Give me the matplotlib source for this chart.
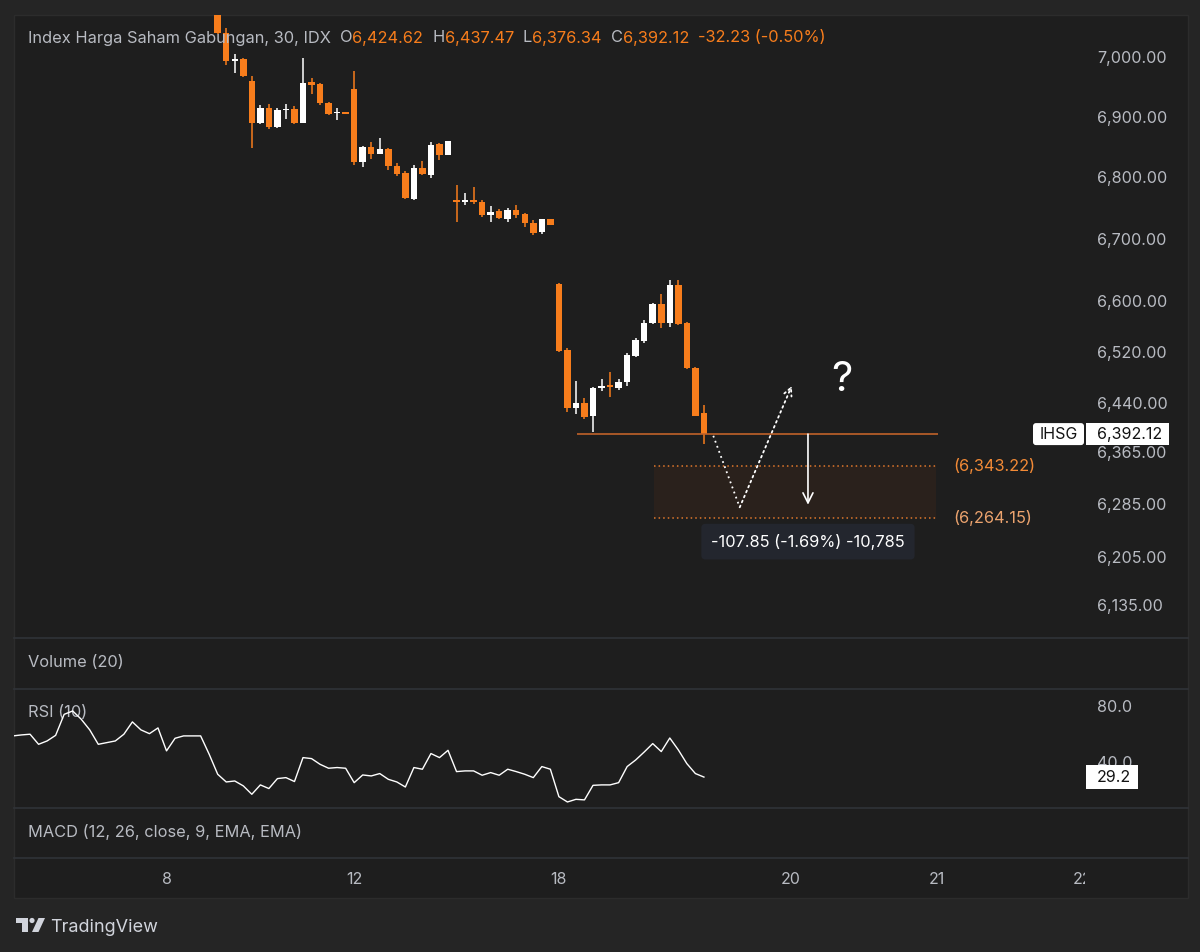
import numpy as np
import matplotlib.pyplot as plt
from matplotlib.patches import Rectangle, FancyBboxPatch, Circle, Polygon
from matplotlib.ticker import FixedLocator, FuncFormatter, NullLocator

plt.rcParams['font.family'] = ['Inter', 'DejaVu Sans']

# --- data (30 min bars, index 0 = first bar visible in the price pane) ---
bar_idx = np.arange(0, 58)
opens = [7082, 7041, 6993.4, 6996.7, 6959.5, 6889.7, 6914.8, 6883.1, 6910.5, 6913.0,
         6889.7, 6957.9, 6954.0, 6922.5, 6906.1, 6908.2, 6945.9, 6825.8, 6849.2, 6838.2,
         6846.4, 6819.2, 6807.7, 6764.5, 6814.8, 6803.8, 6854.2, 6836.6, 6762.9, 6760.3,
         6762.3, 6760.3, 6738.5, 6745.1, 6731.9, 6746.7, 6739.6, 6725.7, 6710.9, 6731.6,
         6627.9, 6523.1, 6432.8, 6439.5, 6420.1, 6464.0, 6467.6, 6464.0, 6473.4, 6513.7,
         6537.2, 6565.0, 6596.4, 6565.0, 6626.2, 6565.0, 6495.4, 6424.62]
highs = [7090, 7048.5, 7004.5, 6997.5, 6967.7, 6920.2, 6921.3, 6914.3, 6921.3, 6917.7,
         6998.9, 6963.9, 6955.7, 6924.1, 6914.3, 6908.2, 6975.9, 6852.0, 6858.5, 6864.0,
         6847.5, 6824.1, 6810.3, 6820.2, 6826.9, 6857.4, 6856.9, 6860.0, 6787.4, 6775.0,
         6784.8, 6762.9, 6753.2, 6748.4, 6750.6, 6754.8, 6741.2, 6730.0, 6732.8, 6731.6,
         6629.0, 6525.8, 6474.5, 6447.4, 6465.1, 6478.3, 6488.7, 6477.4, 6518.9, 6541.5,
         6570.2, 6597.0, 6611.5, 6633.3, 6633.3, 6567.5, 6497.0, 6437.47]
lows = [7039, 6987, 6973, 6967, 6847.6, 6888, 6879.2, 6881.5, 6896.7, 6888.5,
        6889.0, 6937.7, 6920.2, 6903.3, 6895.0, 6904.9, 6820.2, 6816.4, 6829.5, 6838.2,
        6812.0, 6802.8, 6764.5, 6762.9, 6803.8, 6798.4, 6828.4, 6836.0, 6727.4, 6754.7,
        6756.8, 6735.8, 6727.4, 6731.9, 6727.4, 6733.1, 6719.4, 6706.6, 6708.2, 6722.9,
        6520.5, 6426.7, 6422.7, 6415.5, 6396.1, 6458.4, 6449.4, 6460.4, 6467.2, 6511.7,
        6533.6, 6564.0, 6557.2, 6558.8, 6562.3, 6492.8, 6420.1, 6376.34]
closes = [7041, 6994, 6996.7, 6967.7, 6889.7, 6914.8, 6883.1, 6910.5, 6913.0, 6889.7,
          6956.9, 6952.5, 6922.5, 6904.9, 6908.7, 6904.9, 6825.8, 6850.4, 6838.2, 6846.4,
          6818.6, 6805.4, 6765.6, 6814.8, 6804.9, 6853.1, 6836.6, 6859.5, 6760.3, 6762.3,
          6759.0, 6738.5, 6744.0, 6733.1, 6746.7, 6738.5, 6724.8, 6709.8, 6731.6, 6722.9,
          6521.6, 6432.8, 6439.5, 6419.0, 6464.0, 6466.6, 6465.1, 6473.0, 6515.3, 6538.8,
          6565.0, 6596.4, 6566.0, 6626.2, 6563.9, 6494.4, 6420.6, 6392.12]
change, change_pct = -32.23, -0.50

rsi_idx = np.arange(-24, 58)
rsi = [58.6, 59.3, 59.8, 52.6, 55.0, 59.0, 74.0, 76.4, 70.5, 62.9,
       52.6, 53.8, 55.0, 59.8, 68.6, 62.9, 60.2, 64.3, 47.9, 56.9,
       58.6, 58.6, 58.6, 45.5, 31.2, 25.7, 26.4, 22.9, 16.9, 23.6,
       21.0, 28.1, 28.8, 26.0, 43.1, 42.4, 38.3, 35.5, 36.0, 35.5,
       25.2, 30.7, 30.0, 31.7, 27.6, 25.7, 22.1, 36.0, 34.8, 46.0,
       43.1, 48.3, 33.1, 33.6, 33.6, 30.5, 32.4, 30.5, 34.8, 33.1,
       31.2, 28.8, 36.7, 34.8, 15.2, 11.4, 13.3, 12.9, 23.3, 23.6,
       23.6, 25.2, 36.7, 41.4, 47.1, 53.1, 47.4, 57.1, 48.6, 38.8,
       31.7, 29.2]

price_ticks = [7000, 6900, 6800, 6700, 6600, 6520, 6440, 6365, 6285, 6205, 6135]
rsi_ticks = [80, 40]
day_labels = ['8', '12', '18', '20', '21', '22']
day_pos = [-6, 16, 40, 67.2, 84.3, 101.4]

# drawings on the chart
hline_price, hline_x = 6392.12, (42.1, 84.4)
zone_top, zone_bottom, zone_x = 6343.22, 6264.15, (51.1, 84.2)
measure_x, measure_from, measure_to = 69.2, 6392.12, 6284.27
path_x = [58.1, 61.2, 67.3]
path_y = [6389.5, 6280.4, 6466.7]
qmark_x, qmark_y = 73.2, 6476

# --- style ---
W, H = 1200, 952
OUTER, BG = '#252525', '#1e1e1e'
SEP = '#303338'
TXT = '#b8bbc2'
ORANGE = '#f77d1c'
WHITE = '#ffffff'

fig = plt.figure(figsize=(W / 100, H / 100), dpi=100)
fig.patch.set_facecolor(OUTER)


def px_rect(x0, y0, x1, y1):
    return [x0 / W, 1 - y1 / H, (x1 - x0) / W, (y1 - y0) / H]


def bar_at(px):
    # pixel column -> bar index (bar 0 at x=217.7, 8.53 px per bar)
    return (px - 217.7) / 8.53


# background layer in pixel coords
bg = fig.add_axes([0, 0, 1, 1], zorder=-5)
bg.set_xlim(0, W); bg.set_ylim(H, 0); bg.axis('off')
bg.add_patch(Rectangle((14, 15), 1174, 883, fc=BG, ec='#2c2c2c', lw=1))
for yy in [638, 689, 808, 858]:
    bg.plot([14, 1188], [yy, yy], color=SEP, lw=1.2)

XMIN, XMAX = bar_at(14), bar_at(1087)

ax = fig.add_axes(px_rect(14, 15, 1087, 638))
ax_vol = fig.add_axes(px_rect(14, 638, 1087, 689))
ax_rsi = fig.add_axes(px_rect(14, 689, 1087, 808))
ax_macd = fig.add_axes(px_rect(14, 808, 1087, 858))
ax_t = fig.add_axes(px_rect(14, 858, 1085, 898))
for a in [ax, ax_vol, ax_rsi, ax_macd, ax_t]:
    a.set_facecolor('none')
    a.set_xlim(XMIN, XMAX)
    for s in a.spines.values():
        s.set_visible(False)
    a.tick_params(axis='x', bottom=False, labelbottom=False)
for a in [ax_vol, ax_macd, ax_t]:
    a.set_yticks([])
ax_t.set_xlim(XMIN, bar_at(1085))

# price pane
ax.set_yscale('log')
ax.set_ylim(6085.7, 7071.2)
ax.yaxis.set_major_locator(FixedLocator(price_ticks))
ax.yaxis.set_major_formatter(FuncFormatter(lambda v, p: f'{v:,.2f}'))
ax.yaxis.set_minor_locator(NullLocator())
ax.yaxis.tick_right()
ax.tick_params(axis='y', length=0, pad=7.5, labelcolor=TXT, labelsize=11.6)

o, h, l, c = (np.array(v, dtype=float) for v in (opens, highs, lows, closes))
up = c >= o
cols = np.where(up, WHITE, ORANGE)
ax.vlines(bar_idx, l, h, colors=cols, lw=1.1, zorder=3)
body = np.abs(c - o)
bottoms = np.where(body < 2.5, (o + c) / 2 - 1.25, np.minimum(o, c))
ax.bar(bar_idx, np.maximum(body, 2.5), bottom=bottoms, width=0.76,
       color=cols, lw=0, zorder=4)

ax.hlines(hline_price, *hline_x, color='#c0622a', lw=1.2, zorder=5)
ax.add_patch(Rectangle((zone_x[0], zone_bottom), zone_x[1] - zone_x[0],
                       zone_top - zone_bottom, fc='#2a211c', ec='none', zorder=1))
ax.hlines([zone_top, zone_bottom], *zone_x, colors='#e0782c',
          linestyles=(0, (1, 2)), lw=1.1, zorder=2)
ax.text(bar_at(953), zone_top, f'({zone_top:,.2f})', color='#f28a36', fontsize=11.8, va='center')
ax.text(bar_at(953), zone_bottom, f'({zone_bottom:,.2f})', color='#eba36e', fontsize=11.8, va='center')

ax.plot(path_x[:2], path_y[:2], color=WHITE, lw=1.3, ls=(0, (1, 2)), zorder=6)
ax.annotate('', xy=(path_x[2], path_y[2]), xytext=(path_x[1], path_y[1]),
            arrowprops=dict(arrowstyle='->', color=WHITE, lw=1.3, ls=(0, (1, 2)),
                            shrinkA=0, shrinkB=0, mutation_scale=14), zorder=6)
ax.annotate('', xy=(measure_x, measure_to), xytext=(measure_x, measure_from),
            arrowprops=dict(arrowstyle='->', color=WHITE, lw=1.2,
                            shrinkA=0, shrinkB=0, mutation_scale=18), zorder=6)
d = measure_to - measure_from
label = f'{d:,.2f} ({d / measure_from * 100:.2f}%) {round(d * 100):,}'
ax.annotate(label, xy=(measure_x, zone_bottom), xytext=(0, -17), textcoords='offset points',
            ha='center', va='center', color=WHITE, fontsize=11.8, zorder=7,
            bbox=dict(boxstyle='round,pad=0.6,rounding_size=0.25', fc='#23262e', ec='none'))
ax.text(qmark_x, qmark_y, '?', fontsize=30, color=WHITE, ha='center', va='center')

# rsi pane
ax_rsi.set_ylim(7.1, 92.1)
ax_rsi.plot(rsi_idx, rsi, color=WHITE, lw=1.0, zorder=3)
ax_rsi.yaxis.tick_right()
ax_rsi.set_yticks(rsi_ticks)
ax_rsi.yaxis.set_major_formatter(FuncFormatter(lambda v, p: f'{v:.1f}'))
ax_rsi.tick_params(axis='y', length=0, pad=7.5, labelcolor=TXT, labelsize=11.6)

# pane titles
for a, name, dy in [(ax_vol, 'Volume (20)', -17.3), (ax_rsi, 'RSI (10)', -16.6),
                    (ax_macd, 'MACD (12, 26, close, 9, EMA, EMA)', -17.3)]:
    a.annotate(name, xy=(0, 1), xycoords='axes fraction', xytext=(10, dy),
               textcoords='offset points', color=TXT, fontsize=11.8, va='center', zorder=1)

# time axis
ax_t.set_ylim(0, 1)
for pos, lab in zip(day_pos, day_labels):
    ax_t.text(pos, 0.45, lab, color=TXT, fontsize=11.5, ha='center', va='center', clip_on=True)

# overlay in pixel coords
ov = fig.add_axes([0, 0, 1, 1], zorder=10)
ov.set_xlim(0, W); ov.set_ylim(H, 0); ov.axis('off'); ov.set_facecolor('none')
renderer = fig.canvas.get_renderer()

segs = [('Index Harga Saham Gabungan, 30, IDX', TXT, 9),
        ('O', TXT, 0), (f'{o[-1]:,.2f}', ORANGE, 9),
        ('H', TXT, 0), (f'{h[-1]:,.2f}', ORANGE, 9),
        ('L', TXT, 0), (f'{l[-1]:,.2f}', ORANGE, 9),
        ('C', TXT, 0), (f'{c[-1]:,.2f}', ORANGE, 9),
        (f'{change:,.2f} ({change_pct:.2f}%)', ORANGE, 0)]
xx = 28
for s, col, gap in segs:
    t = ov.text(xx, 38, s, color=col, fontsize=11.8, va='center', ha='left')
    xx += t.get_window_extent(renderer).width + gap


def tag_y(a, val):
    return H - a.transData.transform((0, val))[1]


py = tag_y(ax, c[-1])
ov.add_patch(FancyBboxPatch((1033, py - 11), 51, 22, boxstyle='round,pad=0,rounding_size=3',
                            fc=WHITE, ec='none'))
ov.text(1058.5, py, 'IHSG', color='#131313', fontsize=11.5, ha='center', va='center')
ov.add_patch(Rectangle((1086, py - 11), 83, 22, fc=WHITE, ec='none'))
ov.text(1097, py, f'{c[-1]:,.2f}', color='#131313', fontsize=11.5, ha='left', va='center')

ry = tag_y(ax_rsi, rsi[-1])
ov.add_patch(Rectangle((1086, ry - 12), 52, 24, fc=WHITE, ec='none'))
ov.text(1097, ry, f'{rsi[-1]:.1f}', color='#131313', fontsize=11.5, ha='left', va='center')

# TradingView mark
LOGO = '#d1d4dc'
ov.add_patch(Rectangle((16, 918), 12, 5, fc=LOGO, ec='none'))
ov.add_patch(Rectangle((22, 918), 6, 14, fc=LOGO, ec='none'))
ov.add_patch(Circle((32, 920.5), 2.6, fc=LOGO, ec='none'))
ov.add_patch(Polygon([(32, 932), (38.5, 918), (45, 918), (38.5, 932)], fc=LOGO, ec='none'))
ov.text(50, 927, 'TradingView', color=LOGO, fontsize=13, ha='left', va='center')

fig.savefig('out.png', dpi=100, facecolor=fig.get_facecolor())
